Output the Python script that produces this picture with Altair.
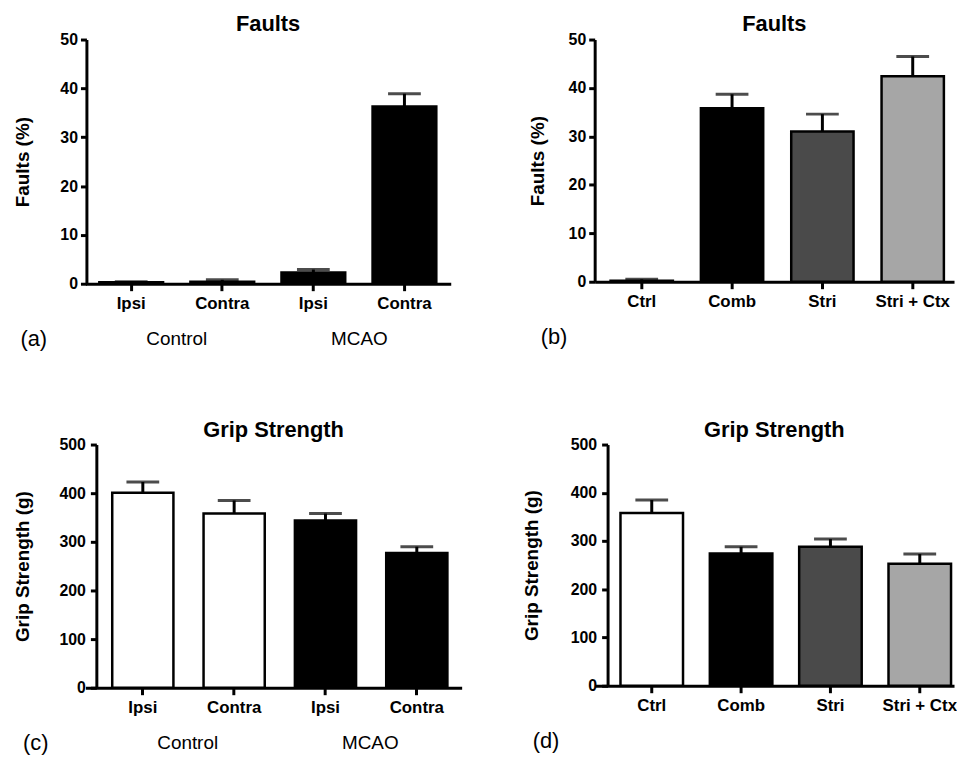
import altair as alt
import pandas as pd

# ---------------- data ----------------
a_keys = ["Ipsi|Control", "Contra|Control", "Ipsi|MCAO", "Contra|MCAO"]
a_group = ["Control", "Control", "MCAO", "MCAO"]
a_faults = [0.3, 0.4, 2.3, 36.3]
a_faults_upper = [0.4, 0.8, 2.9, 38.9]

b_cats = ["Ctrl", "Comb", "Stri", "Stri + Ctx"]
b_faults = [0.2, 35.8, 31.0, 42.4]
b_faults_upper = [0.5, 38.7, 34.6, 46.5]

c_keys = ["Ipsi|Control", "Contra|Control", "Ipsi|MCAO", "Contra|MCAO"]
c_group = ["Control", "Control", "MCAO", "MCAO"]
c_grip = [401, 358, 344, 277]
c_grip_upper = [423, 385, 358, 290]

d_cats = ["Ctrl", "Comb", "Stri", "Stri + Ctx"]
d_grip = [358, 274, 288, 253]
d_grip_upper = [385, 288, 304, 273]

FONT = "Liberation Sans"


def band(width, left, step, pinner, n=4):
    span = step * (n - pinner)
    outer = width - span
    return alt.Scale(paddingInner=pinner, paddingOuter=outer / (2 * step),
                     align=max(0.0, min(1.0, left / outer)))


def panel(keys, fills_dom, fills_rng, colorfield, colorvals, vals, uppers,
          title, title_offset, ytitle, ymax, ystep, width, height, title_pad, yinset,
          label_pad, xscale, letter, letter_x, groups_text):
    df = pd.DataFrame({"key": keys, colorfield: colorvals, "v": vals, "u": uppers})
    x = alt.X("key:N", sort=keys, scale=xscale,
              axis=alt.Axis(title=None, labelExpr="split(datum.value,'|')[0]",
                            labelAngle=0, labelFontSize=17, labelFontWeight="bold",
                            labelFont=FONT, labelColor="black", labelPadding=5,
                            tickSize=7, tickWidth=3, tickColor="black",
                            domainWidth=3, domainColor="black"))
    y = alt.Y("v:Q", scale=alt.Scale(domain=[0, ymax], nice=False),
              axis=alt.Axis(title=ytitle, values=list(range(0, ymax + 1, ystep)),
                            grid=False, labelFontSize=16, labelFontWeight="bold",
                            labelFont=FONT, labelColor="black", labelPadding=label_pad,
                            tickSize=6, tickWidth=3, tickColor="black",
                            domainWidth=3, domainColor="black", offset=-yinset,
                            titleFontSize=19, titleFontWeight="bold", titleFont=FONT,
                            titleColor="black", titlePadding=title_pad))
    base = alt.Chart(df)
    err = base.mark_rule(color="black", strokeWidth=3).encode(x=x, y=y, y2="u:Q")
    cap = base.mark_tick(color="black", thickness=3, size=33).encode(x=x, y=alt.Y("u:Q"))
    bars = base.mark_bar(stroke="black", strokeWidth=2.5).encode(
        x=x, y=y,
        fill=alt.Fill(f"{colorfield}:N", scale=alt.Scale(domain=fills_dom, range=fills_rng),
                      legend=None))
    layers = [err, cap, bars]
    one = pd.DataFrame({"t": [letter]})
    layers.append(alt.Chart(one).mark_text(font=FONT, fontSize=22, color="black",
                                           baseline="middle", align="center").encode(
        text="t:N", x=alt.value(letter_x), y=alt.value(height + 56)))
    for txt, gx in groups_text:
        layers.append(alt.Chart(pd.DataFrame({"t": [txt]})).mark_text(
            font=FONT, fontSize=19, color="black", baseline="middle", align="center").encode(
            text="t:N", x=alt.value(gx), y=alt.value(height + 56)))
    return alt.layer(*layers).resolve_scale(fill="independent").properties(
        width=width, height=height,
        title=alt.TitleParams(title, fontSize=22, fontWeight="bold", font=FONT,
                              color="black", offset=title_offset, anchor="middle",
                              frame="group"))


pa = panel(a_keys, ["Control", "MCAO"], ["black", "black"], "grp", a_group,
           a_faults, a_faults_upper, "Faults", -4, "Faults (%)", 50, 10, 368, 246, 28, 1, 3,
           band(368, 14, 91.75, 0.3), "(a)", -52, [("Control", 92), ("MCAO", 276)])
pb = panel(b_cats, b_cats, ["white", "black", "#4a4a4a", "#a6a6a6"], "cat", b_cats,
           b_faults, b_faults_upper, "Faults", -4, "Faults (%)", 50, 10, 362, 244, 21, 0, 3,
           band(362, 16, 91, 0.31), "(b)", -41, [])
pc = panel(c_keys, ["Control", "MCAO"], ["white", "black"], "grp", c_group,
           c_grip, c_grip_upper, "Grip Strength", -5, "Grip Strength (g)", 500, 100, 379, 245, 27, 11, 5,
           band(379, 27, 92, 0.33), "(c)", -50, [("Control", 103), ("MCAO", 287)])
pd_ = panel(d_cats, d_cats, ["white", "black", "#4a4a4a", "#a6a6a6"], "cat", d_cats,
            d_grip, d_grip_upper, "Grip Strength", -5, "Grip Strength (g)", 500, 100, 362, 243, 29, 13, 5,
            band(362, 26, 90, 0.3), "(d)", -49, [])

chart = alt.concat(
    pa, pb, pc, pd_, columns=2,
    spacing={"row": 69, "column": 61},
).resolve_scale(fill="independent").properties(
    padding={"left": 5, "top": 2, "right": 0, "bottom": 0}
).configure_view(stroke=None)

chart.save("out.html", embed_options={"renderer": "svg", "actions": False})
